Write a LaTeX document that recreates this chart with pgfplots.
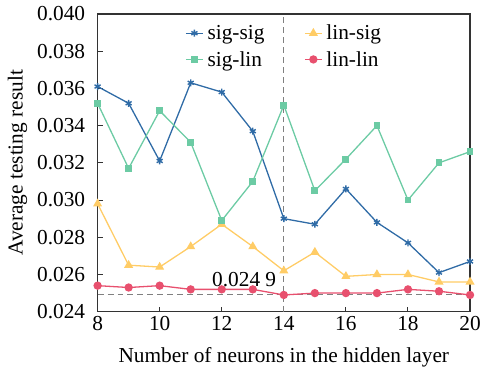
\documentclass[border=0pt]{standalone}
\usepackage{pgfplots}
\pgfplotsset{compat=1.18}
\usepackage{fontspec}
\setmainfont{Liberation Serif}
\setsansfont{Liberation Serif}
\definecolor{cblue}{HTML}{2F6BA6}
\definecolor{cgreen}{HTML}{6CCBA4}
\definecolor{cyellow}{HTML}{FFCC66}
\definecolor{cred}{HTML}{E8506E}
\definecolor{caxis}{HTML}{333333}
\newcommand{\ff}{\rmfamily\fontsize{21.5}{25}\selectfont}
\begin{document}
\begin{tikzpicture}[font=\ff]
\begin{axis}[
  scale only axis,
  width=374bp, height=299bp,
  xmin=8, xmax=20, ymin=0.024, ymax=0.040,
  xtick={8,10,...,20},
  xticklabels={8,10,12,14,16,18,20},
  ytick={0.024,0.026,0.028,0.030,0.032,0.034,0.036,0.038,0.040},
  yticklabels={0.024,0.026,0.028,0.030,0.032,0.034,0.036,0.038,0.040},
  scaled y ticks=false,
  tick align=inside,
  xtick pos=bottom, ytick pos=left,
  major tick length=5bp,
  axis line style={caxis, line width=1.4bp},
  tick style={caxis, line width=1bp},
  tick label style={font=\ff, text=black},
  yticklabel style={xshift=-9bp},
  xticklabel style={yshift=-1bp},
  label style={font=\ff},
  xlabel={Number of neurons in the hidden layer},
  ylabel={Average testing result},
  xlabel style={yshift=-10bp},
  ylabel style={yshift=3bp},
  legend columns=2,
  legend style={draw=none, fill=none, at={(0.235,0.97)}, anchor=north west,
    font=\ff, column sep=2bp, row sep=6bp, inner sep=0pt,
    /tikz/every even column/.append style={column sep=38bp}},
  legend cell align=left,
  every axis plot/.append style={line width=1.3bp},
]
\addplot[dash pattern=on 6bp off 4bp, gray, line width=1bp, forget plot] coordinates {(14,0.024) (14,0.040)};
\addplot[dash pattern=on 6bp off 4bp, gray, line width=1bp, forget plot] coordinates {(8,0.0249) (20,0.0249)};

\addplot[cblue, mark=asterisk, mark size=3.5bp, mark options={line width=1.4bp}] coordinates {
(8,0.0361) (9,0.0352) (10,0.0321) (11,0.0363) (12,0.0358) (13,0.0337) (14,0.0290)
(15,0.0287) (16,0.0306) (17,0.0288) (18,0.0277) (19,0.0261) (20,0.0267)};
\addlegendentry{sig-sig}
\addplot[cyellow, mark=triangle*, mark size=4bp] coordinates {
(8,0.0298) (9,0.0265) (10,0.0264) (11,0.0275) (12,0.0287) (13,0.0275) (14,0.0262)
(15,0.0272) (16,0.0259) (17,0.0260) (18,0.0260) (19,0.0256) (20,0.0256)};
\addlegendentry{lin-sig}
\addplot[cgreen, mark=square*, mark size=2.8bp] coordinates {
(8,0.0352) (9,0.0317) (10,0.0348) (11,0.0331) (12,0.0289) (13,0.0310) (14,0.0351)
(15,0.0305) (16,0.0322) (17,0.0340) (18,0.0300) (19,0.0320) (20,0.0326)};
\addlegendentry{sig-lin}
\addplot[cred, mark=*, mark size=3.5bp] coordinates {
(8,0.0254) (9,0.0253) (10,0.0254) (11,0.0252) (12,0.0252) (13,0.0252) (14,0.0249)
(15,0.0250) (16,0.0250) (17,0.0250) (18,0.0252) (19,0.0251) (20,0.0249)};
\addlegendentry{lin-lin}

\node[anchor=south east, inner sep=0pt, font=\ff] at (axis cs:13.76,0.02535) {0.024 9};
\end{axis}
\pgfresetboundingbox
\path (current axis.south west) ++(-98bp,-57bp) rectangle ([xshift=12bp,yshift=14bp]current axis.north east);
\end{tikzpicture}
\end{document}
